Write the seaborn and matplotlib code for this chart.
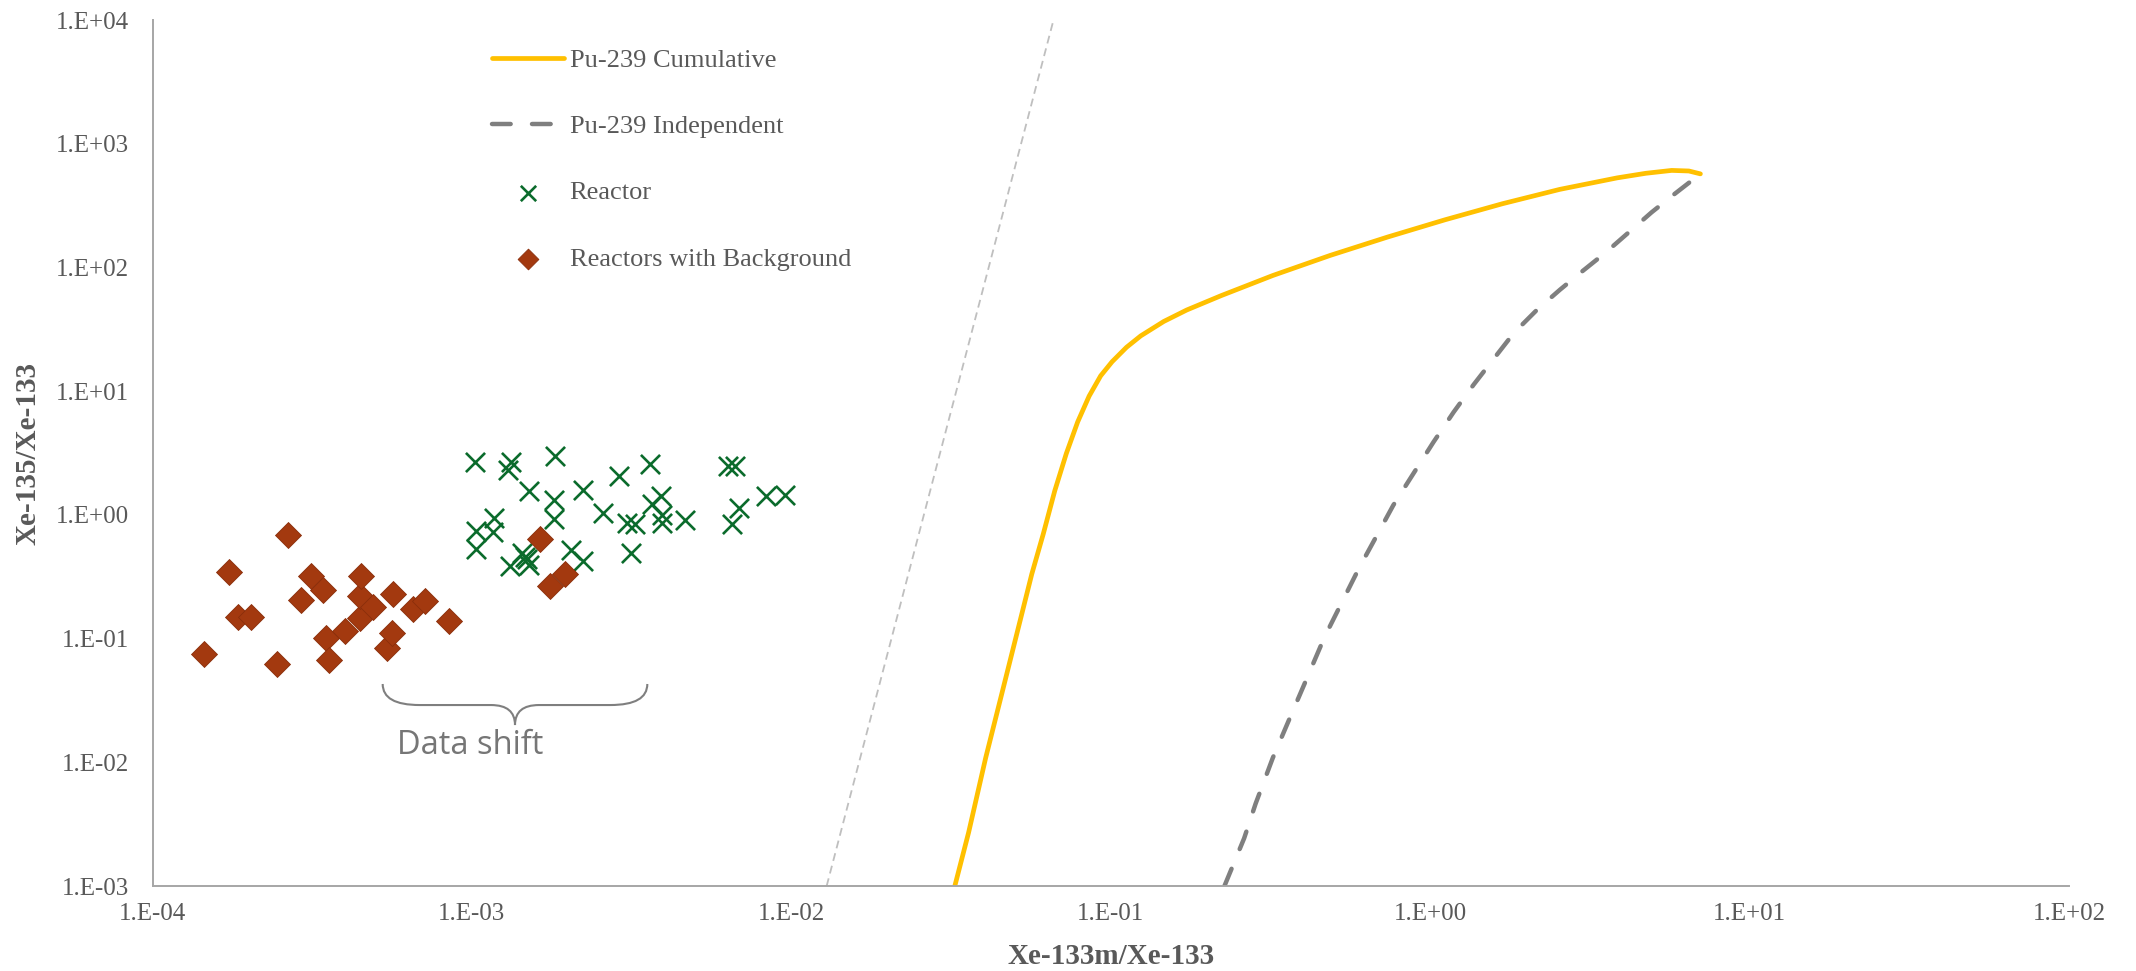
import numpy as np
import seaborn as sns
import matplotlib.pyplot as plt
from matplotlib import ticker
from matplotlib.path import Path
from matplotlib.patches import PathPatch

# --- data ---
bg_x = [1.45e-4, 1.73e-4, 1.85e-4, 2.04e-4, 2.45e-4, 2.65e-4, 2.91e-4, 3.14e-4,
        3.41e-4, 3.49e-4, 3.56e-4, 4.01e-4, 4.47e-4, 4.45e-4, 4.51e-4, 4.89e-4,
        5.41e-4, 5.62e-4, 5.67e-4, 6.54e-4, 7.13e-4, 8.49e-4, 1.63e-3, 1.95e-3, 1.75e-3]
bg_y = [0.0746, 0.345, 0.149, 0.149, 0.0619, 0.689, 0.205, 0.322,
        0.245, 0.102, 0.0675, 0.116, 0.146, 0.222, 0.322, 0.181,
        0.0836, 0.111, 0.228, 0.173, 0.201, 0.139, 0.638, 0.333, 0.266]

reactor_x = [1.02e-3, 1.33e-3, 1.30e-3, 1.82e-3, 1.51e-3, 1.81e-3, 1.81e-3, 2.22e-3,
             2.88e-3, 3.62e-3, 2.58e-3, 3.05e-3, 3.24e-3, 3.66e-3, 3.92e-3, 3.94e-3,
             3.95e-3, 4.63e-3, 6.34e-3, 6.66e-3, 6.85e-3, 6.51e-3, 8.36e-3, 9.54e-3,
             1.17e-3, 1.03e-3, 1.16e-3, 1.03e-3, 2.04e-3, 2.22e-3, 3.14e-3, 1.32e-3,
             1.47e-3, 1.51e-3, 1.49e-3, 1.44e-3]
reactor_y = [2.66, 2.68, 2.31, 3.01, 1.56, 1.32, 0.92, 1.58,
             2.07, 2.59, 1.04, 0.865, 0.84, 1.22, 1.43, 0.99,
             0.856, 0.91, 2.50, 2.50, 1.13, 0.84, 1.42, 1.46,
             0.94, 0.74, 0.73, 0.53, 0.52, 0.42, 0.49, 0.386,
             0.46, 0.394, 0.44, 0.49]

cum_x = [0.0325, 0.0359, 0.0406, 0.0460, 0.0521, 0.0566, 0.0615, 0.0668, 0.0726,
         0.0788, 0.0856, 0.0930, 0.1010, 0.1120, 0.1242, 0.1466, 0.1730, 0.2218,
         0.3218, 0.4866, 0.7360, 1.113, 1.684, 2.547, 3.851, 4.736, 5.705, 6.458, 7.018]
cum_y = [1.0e-3, 2.71e-3, 0.01087, 0.0392, 0.1413, 0.332, 0.702, 1.565, 3.13,
         5.64, 9.13, 13.3, 17.3, 22.6, 28.0, 36.6, 45.3, 59.2,
         86.1, 125.1, 176.1, 242.7, 327.3, 427.6, 529.6, 576.8, 608.5, 602.0, 570.6]

ind_x = [0.227, 0.2617, 0.2842, 0.3218, 0.3641, 0.4124, 0.4668, 0.5285, 0.5984,
         0.6776, 0.7670, 0.8864, 1.0247, 1.1845, 1.3689, 1.5823, 1.8290, 2.1587,
         2.5468, 3.0048, 3.5450, 4.1830, 4.9352, 5.8253, 7.018]
ind_y = [1.0e-3, 2.435e-3, 4.63e-3, 0.01088, 0.02297, 0.04855, 0.1026, 0.1948, 0.3697,
         0.6654, 1.198, 2.157, 3.880, 6.766, 11.30, 18.28, 29.56, 45.33,
         65.88, 93.74, 132.0, 191.8, 278.8, 392.6, 570.6]

guide_x = [0.0129, 0.0662]
guide_y = [1e-3, 1e4]

gold = '#FFC000'
dark_gray = '#7f7f7f'
green = '#0b6b2c'
brown = '#a3390f'
text_gray = '#595959'

sns.set_style('white')
plt.rcParams['font.family'] = ['Liberation Serif', 'DejaVu Serif']

fig = plt.figure(figsize=(21.36, 9.71), dpi=100)
ax = fig.add_axes([0.0714, 0.0875, 0.8972, 0.8919])

sns.lineplot(x=guide_x, y=guide_y, color='#bfbfbf', linewidth=1.3, sort=False,
             estimator=None, ax=ax)
guide_line = ax.lines[-1]
guide_line.set_linestyle((0, (4.4, 2.8)))

sns.lineplot(x=cum_x, y=cum_y, color=gold, linewidth=3.4, sort=False,
             estimator=None, ax=ax, label='Pu-239 Cumulative')
cum_line = ax.lines[-1]
cum_line.set_solid_capstyle('round')

sns.lineplot(x=ind_x, y=ind_y, color=dark_gray, linewidth=3.2, sort=False,
             estimator=None, ax=ax, label='Pu-239 Independent')
ind_line = ax.lines[-1]
ind_line.set_linestyle((0, (4.2, 4.8)))
ind_line.set_dash_capstyle('round')

sns.scatterplot(x=reactor_x, y=reactor_y, marker='x', s=190, color=green,
                linewidth=1.9, ax=ax, label='Reactor', zorder=3)
sns.scatterplot(x=bg_x, y=bg_y, marker='D', s=175, color=brown,
                edgecolor='#8a2e0b', linewidth=0.6, ax=ax,
                label='Reactors with Background', zorder=4)

ax.set_xscale('log')
ax.set_yscale('log')
ax.set_xlim(1e-4, 1e2)
ax.set_ylim(1e-3, 1e4)

fmt = ticker.FuncFormatter(lambda v, p: f"1.E{int(round(np.log10(v))):+03d}")
for axis in (ax.xaxis, ax.yaxis):
    axis.set_major_locator(ticker.LogLocator(base=10, numticks=20))
    axis.set_minor_locator(ticker.LogLocator(base=10, subs=np.arange(2, 10), numticks=200))
    axis.set_major_formatter(fmt)
    axis.set_minor_formatter(ticker.NullFormatter())

for side in ('top', 'right'):
    ax.spines[side].set_visible(False)
for side in ('left', 'bottom'):
    ax.spines[side].set_color('#a6a6a6')
    ax.spines[side].set_linewidth(1.4)

ax.tick_params(which='major', direction='inout', length=9, width=1.3,
               color='#a6a6a6', labelsize=18, labelcolor=text_gray)
ax.tick_params(axis='y', which='major', pad=12.5)
ax.tick_params(axis='x', which='major', pad=8)
ax.tick_params(which='minor', direction='in', length=4, width=1.1, color='#a6a6a6')
ax.grid(False)

ax.set_xlabel('Xe-133m/Xe-133', fontsize=21, fontweight='bold', color=text_gray)
ax.set_ylabel('Xe-135/Xe-133', fontsize=21, fontweight='bold', color=text_gray)
ax.xaxis.set_label_coords(0.5, -0.066)
ax.yaxis.set_label_coords(-0.058, 0.5)

handles, labels = ax.get_legend_handles_labels()
ax.legend(handles, labels, loc='upper left', bbox_to_anchor=(0.177, 0.967),
          frameon=False, fontsize=19, labelcolor=text_gray, handlelength=2.75,
          handletextpad=0.2, labelspacing=1.62, borderaxespad=0, borderpad=0,
          markerscale=0.8)

# curly brace marking the data shift
x0, x1, xm = 0.1201, 0.2582, 0.18915
yt, yf, ytip = 0.2333, 0.2090, 0.1859
rx, rt = 0.0193, 0.0125
verts = [(x0, yt), (x0, yf), (x0 + rx, yf),
         (xm - rt, yf),
         (xm, yf), (xm, ytip),
         (xm, yf), (xm + rt, yf),
         (x1 - rx, yf),
         (x1, yf), (x1, yt)]
codes = [Path.MOVETO, Path.CURVE3, Path.CURVE3,
         Path.LINETO,
         Path.CURVE3, Path.CURVE3,
         Path.CURVE3, Path.CURVE3,
         Path.LINETO,
         Path.CURVE3, Path.CURVE3]
ax.add_patch(PathPatch(Path(verts, codes), transform=ax.transAxes, fill=False,
                       edgecolor='#7f7f7f', linewidth=1.5, clip_on=False))
ax.text(0.1657, 0.162, 'Data shift', transform=ax.transAxes, ha='center',
        va='center', fontsize=23.5, color='#767676', family=['Open Sans', 'DejaVu Sans'])

fig.savefig('out.png', dpi=100)
